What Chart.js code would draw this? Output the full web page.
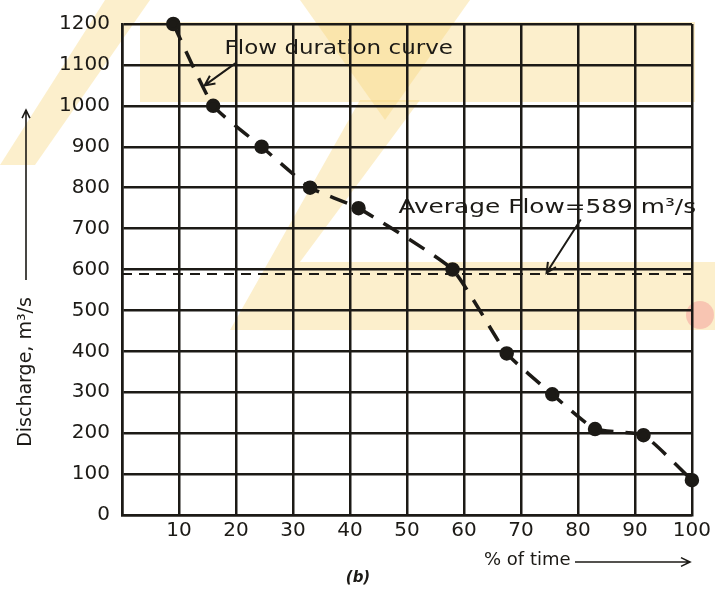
<!DOCTYPE html>
<html>
<head>
<meta charset="utf-8">
<script src="https://cdn.jsdelivr.net/npm/chart.js@4"></script>
<style>
    html, body { margin: 0; padding: 0; background: #fff; }
    #wrap { width: 715px; height: 590px; position: relative; }
</style>
</head>
<body>
<div id="wrap"><canvas id="fdc"></canvas></div>
<script>
// Flow duration curve
const percentTime = [9, 16, 24.5, 33, 41.5, 58, 67.5, 75.5, 83, 91.5, 100];
const discharge = [1200, 1000, 900, 800, 750, 600, 395, 295, 210, 195, 85];
const averageFlow = 589;
const xTicks = [10, 20, 30, 40, 50, 60, 70, 80, 90, 100];
const yTicks = [0, 100, 200, 300, 400, 500, 600, 700, 800, 900, 1000, 1100, 1200];

const ink = '#1c1a16';
const fontFamily = '"DejaVu Sans", Arial, sans-serif';

// faint yellow watermark behind the scan
const watermark = {
    id: 'watermark',
    beforeDraw(chart) {
        const ctx = chart.ctx;
        ctx.save();
        ctx.fillStyle = 'rgba(247, 214, 120, 0.38)';
        ctx.fillRect(140, 22, 555, 80);
        ctx.beginPath();
        ctx.moveTo(0, 165); ctx.lineTo(35, 165); ctx.lineTo(150, 0); ctx.lineTo(105, 0);
        ctx.closePath(); ctx.fill();
        ctx.beginPath();
        ctx.moveTo(230, 330); ctx.lineTo(715, 330); ctx.lineTo(715, 262); ctx.lineTo(300, 262);
        ctx.lineTo(420, 100); ctx.lineTo(360, 100);
        ctx.closePath(); ctx.fill();
        ctx.beginPath();
        ctx.moveTo(300, 0); ctx.lineTo(470, 0); ctx.lineTo(385, 120);
        ctx.closePath(); ctx.fill();
        ctx.fillStyle = 'rgba(240, 120, 130, 0.35)';
        ctx.beginPath(); ctx.arc(700, 315, 14, 0, Math.PI * 2); ctx.fill();
        ctx.restore();
    }
};

function arrow(ctx, x1, y1, x2, y2, head) {
    const a = Math.atan2(y2 - y1, x2 - x1);
    ctx.beginPath();
    ctx.moveTo(x1, y1);
    ctx.lineTo(x2, y2);
    ctx.moveTo(x2 - head * Math.cos(a - 0.45), y2 - head * Math.sin(a - 0.45));
    ctx.lineTo(x2, y2);
    ctx.lineTo(x2 - head * Math.cos(a + 0.45), y2 - head * Math.sin(a + 0.45));
    ctx.stroke();
}

// stretched text, the scan is a bit wider than the font
function wideText(ctx, text, x, y, sx) {
    ctx.save();
    ctx.translate(x, y);
    ctx.scale(sx, 1);
    ctx.fillText(text, 0, 0);
    ctx.restore();
}

// labels, arrows and axis titles
const notes = {
    id: 'notes',
    afterDraw(chart) {
        const ctx = chart.ctx;
        const xs = chart.scales.x, ys = chart.scales.y;
        ctx.save();
        ctx.fillStyle = ink;
        ctx.strokeStyle = ink;
        ctx.lineWidth = 2;
        ctx.textBaseline = 'middle';

        ctx.font = '20px ' + fontFamily;
        ctx.textAlign = 'left';
        wideText(ctx, 'Flow duration curve', xs.getPixelForValue(18), ys.getPixelForValue(1140), 1.15);
        arrow(ctx, xs.getPixelForValue(20), ys.getPixelForValue(1105),
            xs.getPixelForValue(14.5), ys.getPixelForValue(1050), 11);

        wideText(ctx, 'Average Flow=589 m\u00b3/s', xs.getPixelForValue(48.5), ys.getPixelForValue(752), 1.24);
        arrow(ctx, xs.getPixelForValue(80.5), ys.getPixelForValue(722),
            xs.getPixelForValue(74.5), ys.getPixelForValue(592), 11);

        // y title
        ctx.save();
        ctx.translate(26, 372);
        ctx.rotate(-Math.PI / 2);
        ctx.textAlign = 'center';
        ctx.font = '19px ' + fontFamily;
        ctx.fillText('Discharge, m\u00b3/s', 0, 0);
        ctx.restore();
        ctx.lineWidth = 1.6;
        arrow(ctx, 26, 280, 26, 110, 9);

        // x title
        ctx.font = '18px ' + fontFamily;
        ctx.textAlign = 'left';
        ctx.fillText('% of time', 484, 560);
        arrow(ctx, 575, 562, 690, 562, 10);

        ctx.font = 'italic bold 15px ' + fontFamily;
        ctx.textAlign = 'center';
        ctx.fillText('(b)', 358, 578);
        ctx.restore();
    }
};

const ctx = document.getElementById('fdc').getContext('2d');
new Chart(ctx, {
    type: 'scatter',
    data: {
        datasets: [
            {
                label: 'Flow duration curve',
                data: percentTime.map((p, i) => ({ x: p, y: discharge[i] })),
                showLine: true,
                borderColor: ink,
                borderWidth: 3.5,
                borderDash: [18, 12],
                tension: 0.15,
                pointRadius: 5.5,
                pointBackgroundColor: ink,
                pointBorderColor: ink,
                clip: false
            },
            {
                label: 'Average flow',
                data: [{ x: 0, y: averageFlow }, { x: 100, y: averageFlow }],
                showLine: true,
                borderColor: ink,
                borderWidth: 2,
                borderDash: [10, 7],
                pointRadius: 0
            }
        ]
    },
    options: {
        responsive: true,
        maintainAspectRatio: false,
        animation: false,
        layout: { padding: { top: 18, right: 23, left: 0, bottom: 0 } },
        plugins: {
            legend: { display: false },
            tooltip: { enabled: false }
        },
        scales: {
            x: {
                type: 'linear',
                min: 0,
                max: 100,
                afterBuildTicks: axis => { axis.ticks = [0].concat(xTicks).map(v => ({ value: v })); },
                afterFit: axis => { axis.height = 75; },
                grid: { color: ink, lineWidth: 2.5, drawTicks: false },
                border: { color: ink, width: 2.5 },
                ticks: {
                    color: ink,
                    padding: 4,
                    font: { family: fontFamily, size: 20 },
                    callback: v => (v === 0 ? '' : String(v))
                }
            },
            y: {
                min: 0,
                max: 1200,
                afterBuildTicks: axis => { axis.ticks = yTicks.map(v => ({ value: v })); },
                afterFit: axis => { axis.width = 122; },
                grid: { color: ink, lineWidth: 2.5, drawTicks: false },
                border: { color: ink, width: 2.5 },
                ticks: {
                    color: ink,
                    padding: 12,
                    font: { family: fontFamily, size: 20 },
                    callback: v => String(v)
                }
            }
        }
    },
    plugins: [watermark, notes]
});
</script>
</body>
</html>
